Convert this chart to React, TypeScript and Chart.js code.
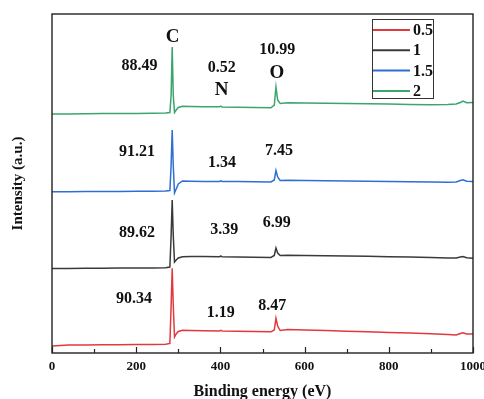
import { useEffect, useRef } from 'react';
import { Chart, registerables } from 'chart.js';

Chart.register(...registerables);

// Binding energy sample positions (eV)
const energy = [0, 40, 80, 120, 160, 200, 240, 270, 280, 283, 285.5, 288, 291, 295, 300, 310, 330, 360, 398, 401, 404, 440, 480, 520, 528, 532, 536, 542, 560, 600, 650, 700, 750, 800, 850, 900, 940, 960, 970, 976, 985, 1000];

// Intensity (a.u., stacked with offsets as in the figure)
const series05 = [7, 8, 8.1, 8.2, 8.3, 8.4, 8.5, 8.7, 9.5, 48, 84.7, 48, 16, 19, 21.5, 22.8, 22.5, 22.2, 22, 22.6, 22, 21.7, 21.4, 21.2, 23, 34.7, 27, 22.5, 23.5, 23, 22.4, 21.8, 21.2, 20.6, 20, 19.2, 18.4, 18, 19.5, 20.3, 19, 19];
const series1 = [84.5, 84.6, 84.7, 84.8, 84.9, 85, 85.1, 85.2, 86, 118, 153, 118, 91, 93, 95, 96.3, 96.5, 96.4, 96.2, 97, 96.2, 96, 95.8, 95.6, 97.5, 105, 100, 97.5, 97.7, 97.5, 97.3, 97, 96.7, 96.3, 96, 95.5, 95, 95, 96, 96.5, 95.2, 94.7];
const series15 = [161.2, 161.3, 161.4, 161.5, 161.6, 161.7, 161.8, 162, 162.5, 188, 223, 188, 160, 164, 169, 172, 171.8, 171.5, 171.5, 172.1, 171.5, 171.4, 171.2, 171, 173, 182.5, 176, 172.5, 172.7, 172.5, 172.3, 172, 171.8, 171.5, 171.2, 171, 170.7, 171, 172.5, 173.2, 171.7, 171.5];
const series2 = [239, 239, 239.2, 239.4, 239.4, 239.6, 239.8, 240, 240.5, 258, 306, 258, 240.5, 243, 245.5, 246.7, 246.5, 246.2, 246.2, 246.9, 246, 245.7, 245.4, 245.2, 248, 266, 253, 249.5, 250.2, 250, 249.8, 249.4, 249.2, 249, 248.6, 248.2, 248.5, 249, 250.5, 252, 250.2, 250.5];

const seriesLabels = ['0.5', '1', '1.5', '2'];
const seriesColors = ['#e2393f', '#3a3a3a', '#2f6fd4', '#3aa56c'];

const xMajorTicks = [0, 200, 400, 600, 800, 1000];
const xTickLabels = ['0', '200', '400', '600', '800', '1000'];

// Peak annotations (text, position in data units)
const annotationTexts = ['C', '88.49', '0.52', 'N', '10.99', 'O', '91.21', '1.34', '7.45', '89.62', '3.39', '6.99', '90.34', '1.19', '8.47'];
const annotationX = [286.7, 208, 403, 403, 535, 534, 202, 404, 539, 202, 409, 534, 195, 401, 523];
const annotationY = [316, 287, 285, 263, 303, 280, 201, 190, 202, 120, 123, 130, 54, 40, 47];
const elementLabels = ['C', 'N', 'O'];

const FONT = '"Liberation Serif", "Times New Roman", serif';

const decorPlugin = {
  id: 'decor',
  afterDatasetsDraw(chart: any) {
    const { ctx, chartArea: a, scales } = chart;
    const x = scales.x;
    const y = scales.y;
    ctx.save();
    // frame
    ctx.strokeStyle = '#222';
    ctx.lineWidth = 1.4;
    ctx.strokeRect(a.left, a.top, a.right - a.left, a.bottom - a.top);
    // inward ticks
    ctx.lineWidth = 1.2;
    for (const t of x.ticks) {
      const px = Math.round(x.getPixelForValue(t.value)) + 0.5;
      const len = xMajorTicks.includes(t.value) ? 6 : 4;
      ctx.beginPath();
      ctx.moveTo(px, a.bottom);
      ctx.lineTo(px, a.bottom - len);
      ctx.stroke();
    }
    // annotations
    ctx.fillStyle = '#111';
    ctx.textAlign = 'center';
    ctx.textBaseline = 'middle';
    annotationTexts.forEach((s, i) => {
      const big = elementLabels.includes(s);
      ctx.font = `bold ${big ? 19 : 16}px ${FONT}`;
      ctx.fillText(s, x.getPixelForValue(annotationX[i]), y.getPixelForValue(annotationY[i]));
    });
    // legend
    const bx = a.right - 101;
    const by = a.top + 5;
    const bw = 61;
    const bh = 79;
    ctx.fillStyle = '#fff';
    ctx.fillRect(bx, by, bw, bh);
    ctx.strokeStyle = '#333';
    ctx.lineWidth = 1;
    ctx.strokeRect(bx + 0.5, by + 0.5, bw, bh);
    ctx.textAlign = 'left';
    ctx.font = `bold 16px ${FONT}`;
    chart.data.datasets.forEach((ds: any, i: number) => {
      const ry = by + 11 + i * 20.3;
      ctx.strokeStyle = ds.borderColor;
      ctx.lineWidth = 2;
      ctx.beginPath();
      ctx.moveTo(bx + 1, ry);
      ctx.lineTo(bx + 38, ry);
      ctx.stroke();
      ctx.fillStyle = '#111';
      ctx.fillText(ds.label, bx + 41, ry + 1);
    });
    ctx.restore();
  },
};

export default function App() {
  const ref = useRef<HTMLCanvasElement>(null);
  useEffect(() => {
    document.body.style.margin = '0';
    const canvas = ref.current;
    if (!canvas) return;
    const allSeries = [series05, series1, series15, series2];
    const chart = new Chart(canvas, {
      type: 'line',
      data: {
        datasets: allSeries.map((s, k) => ({
          label: seriesLabels[k],
          data: energy.map((e, i) => ({ x: e, y: s[i] })),
          borderColor: seriesColors[k],
          backgroundColor: seriesColors[k],
          borderWidth: 1.5,
          pointRadius: 0,
          tension: 0,
          fill: false,
        })),
      },
      options: {
        animation: false,
        responsive: false,
        events: [],
        layout: { padding: { left: 0, right: 11, top: 14, bottom: 0 } },
        plugins: { legend: { display: false }, tooltip: { enabled: false } },
        scales: {
          x: {
            type: 'linear',
            min: 0,
            max: 1000,
            ticks: {
              stepSize: 100,
              autoSkip: false,
              maxRotation: 0,
              padding: 6,
              color: '#111',
              font: { family: FONT, size: 13, weight: 'bold' },
              callback: (v: any) => {
                const i = xMajorTicks.indexOf(Number(v));
                return i >= 0 ? xTickLabels[i] : '';
              },
            },
            grid: { display: false, drawTicks: false },
            border: { display: false },
            title: {
              display: true,
              text: 'Binding energy (eV)',
              color: '#111',
              font: { family: FONT, size: 16, weight: 'bold', lineHeight: 0.9 },
              padding: 0,
            },
            afterFit(s: any) {
              s.height = 46;
              s.paddingLeft = 0;
              s.paddingRight = 0;
            },
          },
          y: {
            type: 'linear',
            min: 0,
            max: 339,
            ticks: { display: false },
            grid: { display: false, drawTicks: false },
            border: { display: false },
            title: {
              display: true,
              text: 'Intensity (a.u.)',
              color: '#111',
              font: { family: FONT, size: 15, weight: 'bold', lineHeight: 1.2 },
              padding: { top: 9.5, bottom: 0 },
            },
            afterFit(s: any) {
              s.width = 52;
            },
          },
        },
      } as any,
      plugins: [decorPlugin],
    });
    return () => chart.destroy();
  }, []);
  return (
    <div style={{ width: 484, height: 399 }}>
      <canvas ref={ref} width={484} height={399} style={{ display: 'block' }} />
    </div>
  );
}
